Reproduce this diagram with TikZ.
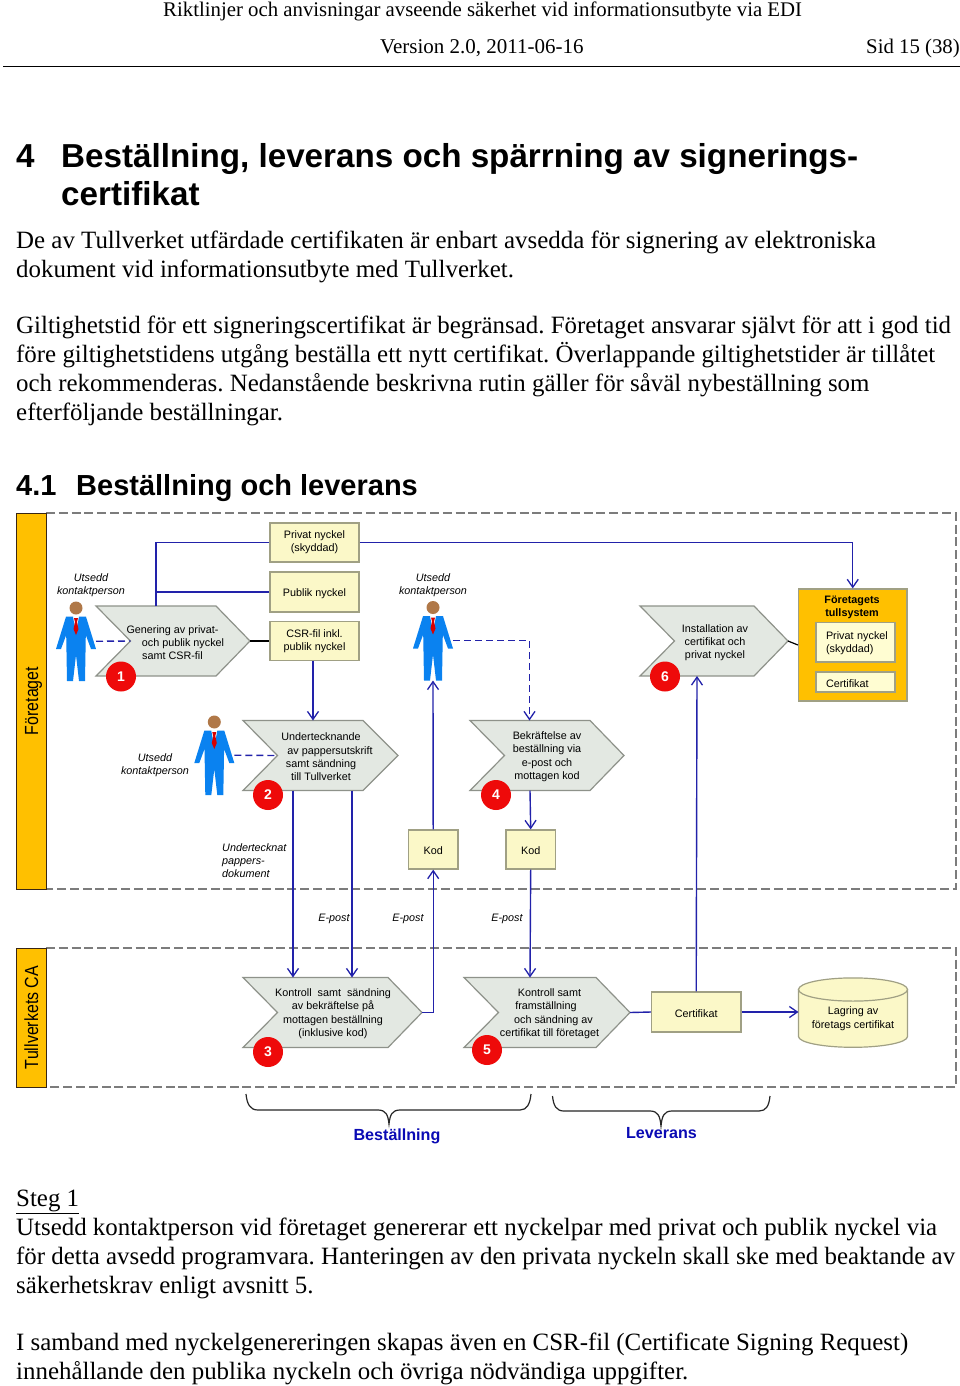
\documentclass[tikz,border=0pt]{standalone}
\usepackage{fontspec}
\setmainfont{Liberation Serif}
\newfontfamily\arial{Liberation Sans}
\newfontfamily\arialn[FakeStretch=0.84]{Liberation Sans}
\usetikzlibrary{arrows.meta,calc}
\definecolor{flowblue}{HTML}{2222AA}
\definecolor{titleblue}{HTML}{0A0AB4}
\definecolor{chevfill}{HTML}{E3E8E2}
\definecolor{chevline}{HTML}{8E928A}
\definecolor{boxfill}{HTML}{FBF8C8}
\definecolor{boxline}{HTML}{A0A084}
\definecolor{innerfill}{HTML}{FFFDD2}
\definecolor{bandorange}{HTML}{FFC000}
\definecolor{badgered}{HTML}{EE0A0A}
\definecolor{suitblue}{HTML}{0A82F0}
\definecolor{headbrown}{HTML}{B07848}
\definecolor{dashgrey}{HTML}{7C7C7C}
\frenchspacing
\tikzset{
  bodytext/.style={anchor=base west,inner sep=0pt,align=left,font=\fontsize{24.9}{28.7}\selectfont},
  hdrtext/.style={anchor=base west,inner sep=0pt,font=\fontsize{20.8}{26}\selectfont},
  head/.style={anchor=base west,inner sep=0pt,font=\arial\bfseries\fontsize{33.2}{38}\selectfont},
  subhead/.style={anchor=base west,inner sep=0pt,font=\arial\bfseries\fontsize{29}{34}\selectfont},
  lab/.style={inner sep=0pt,align=center,yshift=-1.2pt,font=\arial\fontsize{10.8}{13.1}\selectfont},
  ilab/.style={inner sep=0pt,align=center,yshift=-1.2pt,font=\arial\itshape\fontsize{10.8}{13.1}\selectfont},
  databox/.style={draw=boxline,fill=boxfill,line width=1.2pt,inner sep=0pt,align=center,font=\arial\fontsize{10.8}{13.1}\selectfont,execute at begin node={\rule{0pt}{10.6pt}}},
  innerbox/.style={draw=boxline,fill=innerfill,line width=1.2pt,inner sep=0pt,minimum width=79pt,align=left,text width=69pt,font=\arial\fontsize{10.8}{13.1}\selectfont,execute at begin node={\rule{0pt}{10.6pt}}},
  bandbox/.style={draw=black!70!brown,fill=bandorange,line width=.9pt,rotate=90,inner sep=0pt,minimum height=30pt,text height=14pt,text depth=0pt,font=\arialn\fontsize{19}{22}\selectfont},
  pool/.style={draw=dashgrey,line width=1.3pt,dash pattern=on 9pt off 3.8pt},
  chevshape/.style={draw=chevline,fill=chevfill,line width=1.2pt,line join=miter},
  storeshape/.style={draw=boxline,fill=boxfill,line width=1.2pt},
  badge/.style={circle,fill=badgered,text=white,inner sep=0pt,minimum size=30pt,font=\arial\bfseries\fontsize{14}{16}\selectfont},
  flow/.style={draw=flowblue,line width=1.4pt},
  barb/.style={-{Straight Barb[length=8pt,width=11pt,line width=1.3pt]}},
  flowto/.style={flow,barb},
  dflow/.style={flow,dash pattern=on 7pt off 4pt},
  blk/.style={draw=black,line width=1.2pt},
  bracelne/.style={draw=black!85,line width=1.2pt},
  grp/.style={inner sep=0pt,text=titleblue,font=\arial\bfseries\fontsize{16.1}{20}\selectfont},
  anchorbox/.style={inner sep=0pt,outer sep=0pt},
}
% name, left x, shoulder x, right x, mid y, half-height
\newcommand\mychev[6]{%
  \draw[chevshape] (#2,#5-#6) -- (#3,#5-#6) -- (#4,#5) -- (#3,#5+#6) -- (#2,#5+#6) -- (#2+34.5,#5) -- cycle;
  \node[anchorbox,minimum width=#4pt-#2pt,minimum height=2pt*#6] (#1) at ({(#2+#4)/2},#5) {};
}
% name, centre x, head centre y
\newcommand\myperson[3]{%
  \begin{scope}[shift={(#2,#3)}]
    \fill[suitblue] (-10,8.7) -- (-3,8.7) -- (0,25) -- (3,8.7) -- (10,8.7) -- (20,41) -- (15,41) -- (9.8,27) -- (9,73) -- (3,73) -- (0,47) -- (-3,73) -- (-9,73) -- (-9.8,27) -- (-15,41) -- (-20,41) -- cycle;
    \fill[red!85!black] (-2,10) -- (2,10) -- (1,14) -- (2.5,21) -- (0,27) -- (-2.5,21) -- (-1,14) -- cycle;
    \fill[headbrown] (0,0) circle (6.5);
    \node[anchorbox,minimum width=40pt,minimum height=79.5pt] (#1) at (0,33.25) {};
  \end{scope}
}
\begin{document}
\begin{tikzpicture}[x=1pt,y=-1pt]
\useasboundingbox (0,0) rectangle (960,1386);
\fill[white] (0,0) rectangle (960,1386);
% page header
\node[hdrtext] (h1) at (163,16.3) {Riktlinjer och anvisningar avseende säkerhet vid informationsutbyte via EDI};
\node[hdrtext,font=\fontsize{21}{26}\selectfont] (h2) at (380,54) {Version 2.0, 2011-06-16};
\node[hdrtext,anchor=base east] (h3) at (960,54) {Sid 15 (38)};
\draw[black,line width=1pt] (3,66.5) -- (960,66.5);
% headings and body
\node[head] (t0) at (16,167) {4};
\node[head] (t1) at (61,167) {Beställning, leverans och spärrning av signerings-};
\node[head] (t2) at (61,205) {certifikat};
\node[bodytext] (p1a) at (16,277) {De av Tullverket utfärdade certifikaten är enbart avsedda för signering av elektroniska\\dokument vid informationsutbyte med Tullverket.};
\node[bodytext] (p1b) at (16,420) {Giltighetstid för ett signeringscertifikat är begränsad. Företaget ansvarar självt för att i god tid\\före giltighetstidens utgång beställa ett nytt certifikat. Överlappande giltighetstider är tillåtet\\och rekommenderas. Nedanstående beskrivna rutin gäller för såväl nybeställning som\\efterföljande beställningar.};
\node[subhead] (s0) at (16,495) {4.1};
\node[subhead] (s1) at (76,495) {Beställning och leverans};
% pools
\draw[pool] (46,513) -- (956,513) -- (956,889) -- (46,889);
\draw[pool] (46,948) -- (956,948) -- (956,1087) -- (46,1087);
\node[bandbox,minimum width=376pt] (b1) at (31,701) {Företaget};
\node[bandbox,minimum width=139pt] (b2) at (31,1017.5) {Tullverkets CA};
% data boxes
\node[databox,minimum width=89pt,minimum height=39pt] (priv) at (314.5,542.5) {Privat nyckel\\(skyddad)};
\node[databox,minimum width=89pt,minimum height=40pt] (pub) at (314.5,592) {Publik nyckel};
\node[databox,minimum width=89pt,minimum height=39.5pt] (csr) at (314.5,641) {CSR-fil inkl.\\publik nyckel};
\node[databox,minimum width=49.5pt,minimum height=39pt] (kod1) at (433.2,849.5) {Kod};
\node[databox,minimum width=49.5pt,minimum height=39pt] (kod2) at (530.7,849.5) {Kod};
\node[databox,minimum width=89.5pt,minimum height=40pt] (cert) at (696.2,1012) {Certifikat};
% company system
\node[draw=boxline,fill=bandorange,line width=1.2pt,inner sep=0pt,minimum width=108.5pt,minimum height=112pt] (sys) at (852.75,645) {};
\node[lab,font=\arial\bfseries\fontsize{10.8}{13.1}\selectfont] (systxt) at (852,606.5) {Företagets\\tullsystem};
\node[innerbox,minimum height=39.5pt] (sysp) at (855.5,642.25) {\hspace*{5pt}Privat nyckel\\\hspace*{5pt}(skyddad)};
\node[innerbox,minimum height=20pt] (sysc) at (855.5,682) {\hspace*{5pt}Certifikat};
% storage
\draw[storeshape] (798.5,989.5) -- (798.5,1036.5) .. controls (798.5,1042.5) and (823,1047.3) .. (853,1047.3) .. controls (883,1047.3) and (907.5,1042.5) .. (907.5,1036.5) -- (907.5,989.5) -- cycle;
\draw[storeshape] (853,989.5) ellipse [x radius=54.5, y radius=11.6];
\node[anchorbox,minimum width=109pt,minimum height=69pt] (cyl) at (853,1012) {};
\node[lab] (cyltxt) at (853,1017.5) {Lagring av\\företags certifikat};
% chevrons
\mychev{c1}{96}{216}{250}{641}{35}
\mychev{c2}{243}{363}{398}{755.5}{35}
\mychev{c4}{470}{590}{624}{755.5}{35}
\mychev{c6}{640}{754}{788}{641}{35}
\mychev{c3}{243}{388}{422}{1012.5}{35}
\mychev{c5}{464}{596}{630}{1012.5}{35}
\node[lab] (c1t) at (172.5,641.5) {Genering av privat-\\\hspace*{21pt}och publik nyckel\\samt CSR-fil};
\node[lab] (c2t) at (325.5,755.5) {\hspace*{-9pt}Undertecknande\\\hspace*{9pt}av pappersutskrift\\\hspace*{-9pt}samt sändning\\\hspace*{-9pt}till Tullverket};
\node[lab] (c4t) at (547,755.5) {Bekräftelse av\\beställning via\\e-post och\\mottagen kod};
\node[lab] (c6t) at (715,641.5) {Installation av\\certifikat och\\privat nyckel};
\node[lab] (c3t) at (333,1012.5) {Kontroll\ \ samt\ \ sändning\\av bekräftelse på\\mottagen beställning\\(inklusive kod)};
\node[lab] (c5t) at (549.5,1012.5) {Kontroll samt\\\hspace*{-7pt}framställning\\\hspace*{8pt}och sändning av\\certifikat till företaget};
% people
\myperson{m1}{76}{608}
\myperson{m2}{214.3}{722}
\myperson{m3}{433}{607.5}
\node[ilab] (u1) at (91,584) {Utsedd\\kontaktperson};
\node[ilab] (u2) at (155,764) {Utsedd\\kontaktperson};
\node[ilab] (u3) at (433,584) {Utsedd\\kontaktperson};
\node[ilab,align=left,anchor=north west] (doc) at (222,842) {Undertecknat\\pappers-\\dokument};
\node[ilab] (e1) at (334,918) {E-post};
\node[ilab] (e2) at (408,918) {E-post};
\node[ilab] (e3) at (507,918) {E-post};
% connectors
\draw[flow] ([xshift=-17pt]c1.north) |- (priv.west);
\draw[flow] ([xshift=-17pt]c1.north) |- (pub.west);
\draw[blk] (c1.east) -- (csr.west);
\draw[flowto] (priv.east) -| (sys.north);
\draw[flowto] ([xshift=-1.5pt]csr.south) -- ([xshift=-7.5pt]c2.north);
\draw[dflow] (m1.east) -- ([xshift=34.5pt]c1.west);
\draw[dflow] (m2.east) -- ([xshift=34.5pt]c2.west);
\draw[dflow,barb] (m3.east) -| ([xshift=-17.5pt]c4.north);
\draw[flowto] ([xshift=-27.5pt]c2.south) -- ([xshift=-39.5pt]c3.north);
\draw[flowto] ([xshift=31.5pt]c2.south) -- ([xshift=19.5pt]c3.north);
\draw[flowto] (c3.east) -| (kod1.south);
\draw[flowto] (kod1.north) -- (m3.south);
\draw[flowto] ([xshift=-17pt]c4.south) -- (kod2.north);
\draw[flowto] (kod2.south) -- ([xshift=-17pt]c5.north);
\draw[flow] (c5.east) -- (cert.west);
\draw[flowto] (cert.north) -- ([xshift=-17pt]c6.south);
\draw[flowto] (cert.east) -- (cyl.west);
\draw[blk] (c6.east) -- (sys.west);
% badges
\node[badge] (n1) at (121,676.5) {1};
\node[badge] (n2) at (268,795) {2};
\node[badge] (n3) at (268,1052) {3};
\node[badge] (n4) at (496,795) {4};
\node[badge] (n5) at (487,1050) {5};
\node[badge] (n6) at (665,676.5) {6};
% braces
\draw[bracelne] (246,1094) .. controls (247,1104) and (250,1110) .. (258,1110) -- (378,1110) .. controls (386,1110) and (388,1115) .. (389,1124) .. controls (390,1115) and (392,1110) .. (400,1110) -- (520,1110) .. controls (527,1110) and (530,1104) .. (531,1094);
\draw[bracelne] (552.5,1096) .. controls (553.5,1106) and (556.5,1111) .. (564,1111) -- (650,1111) .. controls (658,1111) and (660,1116) .. (661,1126) .. controls (662,1116) and (664,1111) .. (672,1111) -- (759,1111) .. controls (766,1111) and (769,1106) .. (770,1096);
\node[grp] (g1) at (397,1136) {Beställning};
\node[grp] (g2) at (661.5,1133.5) {Leverans};
% closing text
\node[bodytext] (p2a) at (16,1293) {\underline{Steg 1}\\Utsedd kontaktperson vid företaget genererar ett nyckelpar med privat och publik nyckel via\\för detta avsedd programvara. Hanteringen av den privata nyckeln skall ske med beaktande av\\säkerhetskrav enligt avsnitt 5.};
\node[bodytext] (p2b) at (16,1379) {I samband med nyckelgenereringen skapas även en CSR-fil (Certificate Signing Request)\\innehållande den publika nyckeln och övriga nödvändiga uppgifter.};
\end{tikzpicture}
\end{document}
